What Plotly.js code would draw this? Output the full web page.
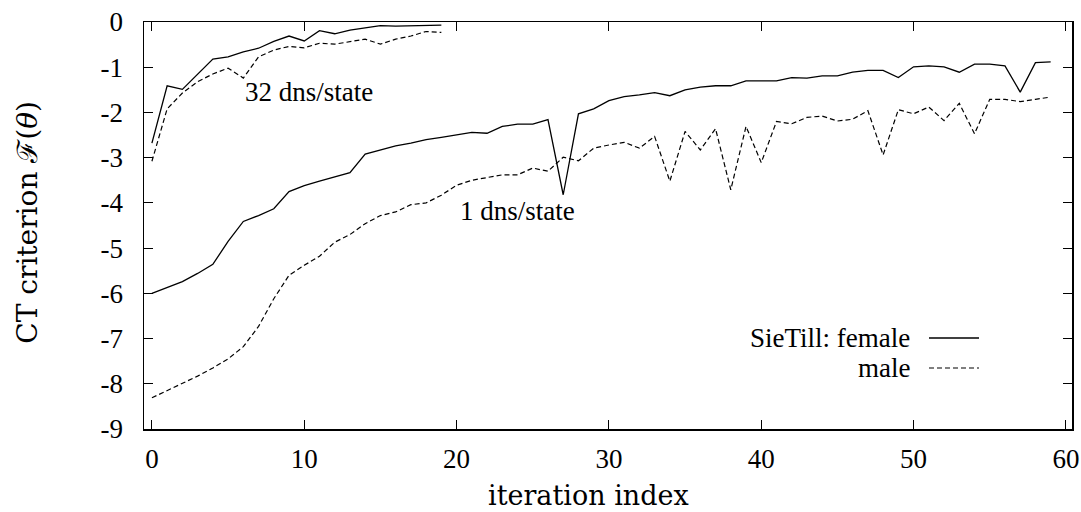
<!DOCTYPE html>
<html>
<head>
<meta charset="utf-8">
<script src="https://cdn.plot.ly/plotly-3.0.1.min.js"></script>
<style>html,body{margin:0;padding:0;background:#fff;}#chart{width:1081px;height:512px;}</style>
</head>
<body>
<div id="chart"></div>
<script>
// ---- data ----
const iter60 = Array.from({length: 60}, (_, i) => i);
const iter20 = Array.from({length: 20}, (_, i) => i);

const female1 = [-6.00,-5.87,-5.74,-5.56,-5.36,-4.85,-4.41,-4.28,-4.13,-3.75,
                 -3.62,-3.52,-3.42,-3.33,-2.92,-2.83,-2.74,-2.68,-2.60,-2.55,
                 -2.49,-2.44,-2.46,-2.31,-2.26,-2.26,-2.16,-3.82,-2.03,-1.92,
                 -1.74,-1.65,-1.61,-1.56,-1.63,-1.50,-1.44,-1.41,-1.41,-1.30,
                 -1.30,-1.30,-1.23,-1.24,-1.19,-1.19,-1.11,-1.07,-1.07,-1.23,
                 -0.99,-0.97,-0.99,-1.11,-0.93,-0.93,-0.97,-1.55,-0.90,-0.88];
const male1 = [-8.31,-8.15,-7.99,-7.83,-7.65,-7.45,-7.18,-6.73,-6.12,-5.60,
               -5.38,-5.18,-4.87,-4.70,-4.46,-4.28,-4.20,-4.04,-4.00,-3.83,
               -3.61,-3.50,-3.44,-3.38,-3.38,-3.23,-3.30,-2.99,-3.07,-2.79,
               -2.72,-2.66,-2.79,-2.53,-3.52,-2.42,-2.83,-2.36,-3.71,-2.31,
               -3.11,-2.20,-2.25,-2.11,-2.08,-2.19,-2.15,-1.96,-2.94,-1.94,
               -2.03,-1.88,-2.18,-1.80,-2.47,-1.71,-1.71,-1.76,-1.71,-1.66];
const female32 = [-2.68,-1.41,-1.49,-1.15,-0.82,-0.77,-0.66,-0.58,-0.43,-0.31,
                  -0.42,-0.19,-0.26,-0.18,-0.13,-0.08,-0.09,-0.08,-0.07,-0.07];
const male32 = [-3.08,-1.92,-1.57,-1.32,-1.15,-1.02,-1.24,-0.77,-0.62,-0.54,
                -0.57,-0.47,-0.49,-0.44,-0.38,-0.49,-0.38,-0.31,-0.21,-0.23];

const xTickVals = [0,10,20,30,40,50,60];
const yTickVals = [0,-1,-2,-3,-4,-5,-6,-7,-8,-9];
const yTickText = ['0','-1','-2','-3','-4','-5','-6','-7','-8','-9'];

const labels = {female: 'SieTill: female', male: 'male', run1: '1 dns/state', run32: '32 dns/state'};
const xTitle = 'iteration index';
const yTitle = 'CT criterion ℱ(<i>θ</i>)';
// ---- end data ----

const serif = '"Liberation Serif", "Times New Roman", Times, serif';
const titleFont = '"DejaVu Serif", "Liberation Serif", serif';
const solid = {color: '#000', width: 1.3, dash: 'solid'};
const dashed = {color: '#000', width: 1.2, dash: '5px,3px'};

const traces = [
  {x: iter60, y: female1, mode: 'lines', line: solid, name: labels.female, showlegend: false},
  {x: iter60, y: male1, mode: 'lines', line: dashed, name: labels.male, showlegend: false},
  {x: iter20, y: female32, mode: 'lines', line: solid, name: labels.female, showlegend: false},
  {x: iter20, y: male32, mode: 'lines', line: dashed, name: labels.male, showlegend: false}
];

const layout = {
  width: 1081, height: 512,
  margin: {l: 144, r: 9, t: 22, b: 83},
  paper_bgcolor: '#fff', plot_bgcolor: '#fff',
  showlegend: false,
  font: {family: serif, size: 27, color: '#000'},
  xaxis: {
    range: [-0.52, 60.4], tickvals: xTickVals, ticks: 'inside', ticklen: 9, tickwidth: 1,
    tickcolor: '#000', mirror: 'ticks', showline: true, linecolor: '#000', linewidth: 1.5,
    showgrid: false, zeroline: false, ticklabelstandoff: 5,
    tickfont: {family: serif, size: 27}
  },
  yaxis: {
    range: [-9, 0], tickvals: yTickVals, ticktext: yTickText, ticks: 'inside', ticklen: 9, tickwidth: 1,
    tickcolor: '#000', mirror: 'ticks', showline: true, linecolor: '#000', linewidth: 1.5,
    showgrid: false, zeroline: false, ticklabelstandoff: 14,
    tickfont: {family: serif, size: 27}
  },
  annotations: [
    {x: 0.4795, y: -0.163, xref: 'paper', yref: 'paper', text: xTitle, showarrow: false, xanchor: 'center', yanchor: 'middle', borderpad: 0, font: {family: titleFont, size: 27}},
    {x: -0.125, y: 0.507, xref: 'paper', yref: 'paper', text: yTitle, textangle: -90, showarrow: false, xanchor: 'center', yanchor: 'middle', font: {family: titleFont, size: 28}},
    {x: 6.0, y: -1.54, xref: 'x', yref: 'y', text: labels.run32, showarrow: false, xanchor: 'left', yanchor: 'middle', font: {family: serif, size: 27}},
    {x: 20.1, y: -4.19, xref: 'x', yref: 'y', text: labels.run1, showarrow: false, xanchor: 'left', yanchor: 'middle', font: {family: serif, size: 27}},
    {x: 0.8276, y: 0.2236, xref: 'paper', yref: 'paper', text: labels.female, showarrow: false, xanchor: 'right', yanchor: 'middle', font: {family: serif, size: 27}},
    {x: 0.8276, y: 0.1499, xref: 'paper', yref: 'paper', text: labels.male, showarrow: false, xanchor: 'right', yanchor: 'middle', font: {family: serif, size: 27}}
  ],
  shapes: [
    {type: 'line', xref: 'paper', yref: 'paper', x0: 0.8459, x1: 0.8998, y0: 0.2236, y1: 0.2236, line: solid},
    {type: 'line', xref: 'paper', yref: 'paper', x0: 0.8459, x1: 0.8998, y0: 0.1499, y1: 0.1499, line: dashed}
  ]
};

Plotly.newPlot('chart', traces, layout, {staticPlot: true, displayModeBar: false});
</script>
</body>
</html>
